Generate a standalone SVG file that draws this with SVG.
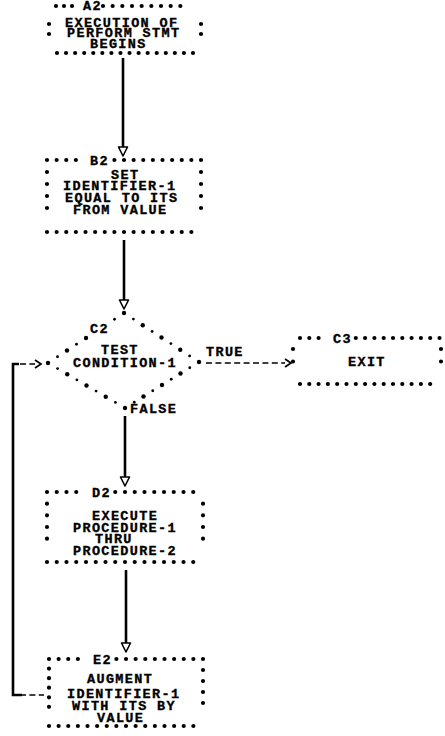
<svg xmlns="http://www.w3.org/2000/svg" width="445" height="736" viewBox="0 0 445 736">
<style>
.dot{fill:none;stroke:#000;stroke-width:4.2;stroke-linecap:round;stroke-dasharray:0 1}
.b{fill:#000}
.s{fill:#000}
.t{font-family:"Liberation Mono",monospace;font-weight:bold;font-size:13.5px;letter-spacing:1.35px;fill:#000;stroke:#000;stroke-width:0.35}
.ln{stroke:#000;stroke-width:2.6;fill:none}
.dash{stroke:#000;stroke-width:1.7;stroke-dasharray:6 3.4;fill:none}
.ah{fill:#fff;stroke:#000;stroke-width:1.6;stroke-linejoin:round}
.chev{fill:none;stroke:#000;stroke-width:1.7}
</style>
<rect width="445" height="736" fill="#fff"/>
<g id="connectors">
  <path class="ln" d="M123 58V147"/>
  <polygon class="ah" points="118.5,147 127.5,147 123,156"/>
  <path class="ln" d="M124 240V300"/>
  <polygon class="ah" points="119.5,300 128.5,300 124,309"/>
  <path class="ln" d="M125 416V477"/>
  <polygon class="ah" points="120.5,477 129.5,477 125,486"/>
  <path class="ln" d="M126 570V643"/>
  <polygon class="ah" points="121.5,643 130.5,643 126,652"/>
  <path class="dash" d="M206 363H285"/>
  <polyline class="chev" points="285,359 291,363 285,367"/>
  <path class="ln" d="M22 695H13V364H19"/>
  <path class="dash" d="M20 695H44"/>
  <path class="dash" d="M20 364H35"/>
  <polyline class="chev" points="35,360 41,364 35,368"/>
  <text class="t" x="206" y="356">TRUE</text>
  <text class="t" x="130" y="413">FALSE</text>
</g>
<g id="node-A2">
  <path class="dot" pathLength="3" d="M56 6H80"/>
  <path class="dot" pathLength="9" d="M103 6H190"/>
  <text class="t" x="83" y="10">A2</text>
  <path class="dot" pathLength="15" d="M57 53H193"/>
  <path class="dot" pathLength="2" d="M49 24V44"/>
  <path class="dot" pathLength="2" d="M201 24V44"/>
  <text class="t" x="65" y="27">EXECUTION OF</text>
  <text class="t" x="67" y="37">PERFORM STMT</text>
  <text class="t" x="90" y="48">BEGINS</text>
</g>
<g id="node-B2">
  <path class="dot" pathLength="4" d="M47 160H85.5"/>
  <path class="dot" pathLength="9" d="M114.4 160H201"/>
  <text class="t" x="90" y="165">B2</text>
  <path class="dot" pathLength="16" d="M47 232H201"/>
  <path class="dot" pathLength="4" d="M47 172V220"/>
  <path class="dot" pathLength="4" d="M201 172V220"/>
  <text class="t" x="111" y="179">SET</text>
  <text class="t" x="63" y="190">IDENTIFIER-1</text>
  <text class="t" x="65" y="202">EQUAL TO ITS</text>
  <text class="t" x="73" y="214">FROM VALUE</text>
</g>
<g id="node-C2">
  <g class="b">
    <circle cx="48" cy="363" r="2.2"/><circle cx="67" cy="350.5" r="2.2"/><circle cx="86" cy="338" r="2.2"/><circle cx="124" cy="313" r="2.2"/>
    <circle cx="142.75" cy="325.25" r="2.2"/><circle cx="161.5" cy="337.5" r="2.2"/><circle cx="180.25" cy="349.75" r="2.2"/><circle cx="199" cy="362" r="2.2"/>
    <circle cx="67.25" cy="374.25" r="2.2"/><circle cx="86.5" cy="385.5" r="2.2"/><circle cx="105.75" cy="396.75" r="2.2"/><circle cx="125" cy="408" r="2.2"/>
    <circle cx="143.5" cy="396.5" r="2.2"/><circle cx="162" cy="385" r="2.2"/><circle cx="180.5" cy="373.5" r="2.2"/>
  </g>
  <g class="s">
    <circle cx="57.5" cy="356.75" r="1.4"/><circle cx="76.5" cy="344.25" r="1.4"/><circle cx="114.5" cy="319.25" r="1.4"/>
    <circle cx="133.4" cy="319.1" r="1.4"/><circle cx="152.1" cy="331.4" r="1.4"/><circle cx="170.9" cy="343.6" r="1.4"/><circle cx="189.6" cy="355.9" r="1.4"/>
    <circle cx="57.6" cy="368.6" r="1.4"/><circle cx="76.9" cy="379.9" r="1.4"/><circle cx="96.1" cy="391.1" r="1.4"/><circle cx="115.4" cy="402.4" r="1.4"/>
    <circle cx="134.25" cy="402.25" r="1.4"/><circle cx="152.75" cy="390.75" r="1.4"/><circle cx="171.25" cy="379.25" r="1.4"/><circle cx="189.75" cy="367.75" r="1.4"/>
  </g>
  <text class="t" x="90" y="333">C2</text>
  <text class="t" x="101" y="354">TEST</text>
  <text class="t" x="73" y="367">CONDITION-1</text>
</g>
<g id="node-C3">
  <path class="dot" pathLength="3" d="M300 338H327.9"/>
  <path class="dot" pathLength="9" d="M355.8 338H439.5"/>
  <text class="t" x="333" y="343">C3</text>
  <path class="dot" pathLength="15" d="M300 384H439.5"/>
  <path class="dot" pathLength="2" d="M293 349V374"/>
  <path class="dot" pathLength="2" d="M441 349V374"/>
  <text class="t" x="348" y="366">EXIT</text>
</g>
<g id="node-D2">
  <path class="dot" pathLength="4" d="M47 492H86"/>
  <path class="dot" pathLength="9" d="M115.25 492H203"/>
  <text class="t" x="92" y="497">D2</text>
  <path class="dot" pathLength="16" d="M47 562H203"/>
  <path class="dot" pathLength="4" d="M47 503.7V550.3"/>
  <path class="dot" pathLength="4" d="M203 503.7V550.3"/>
  <text class="t" x="92" y="520">EXECUTE</text>
  <text class="t" x="73" y="532">PROCEDURE-1</text>
  <text class="t" x="95" y="543">THRU</text>
  <text class="t" x="73" y="555">PROCEDURE-2</text>
</g>
<g id="node-E2">
  <path class="dot" pathLength="4" d="M49 659H87.5"/>
  <path class="dot" pathLength="9" d="M116.4 659H203"/>
  <text class="t" x="93" y="664">E2</text>
  <path class="dot" pathLength="16" d="M49 726H203"/>
  <path class="dot" pathLength="5" d="M49 668.6V716.4"/>
  <path class="dot" pathLength="4" d="M203 670V714"/>
  <text class="t" x="87" y="683">AUGMENT</text>
  <text class="t" x="67" y="698">IDENTIFIER-1</text>
  <text class="t" x="72" y="710">WITH ITS BY</text>
  <text class="t" x="97" y="722">VALUE</text>
</g>
</svg>
